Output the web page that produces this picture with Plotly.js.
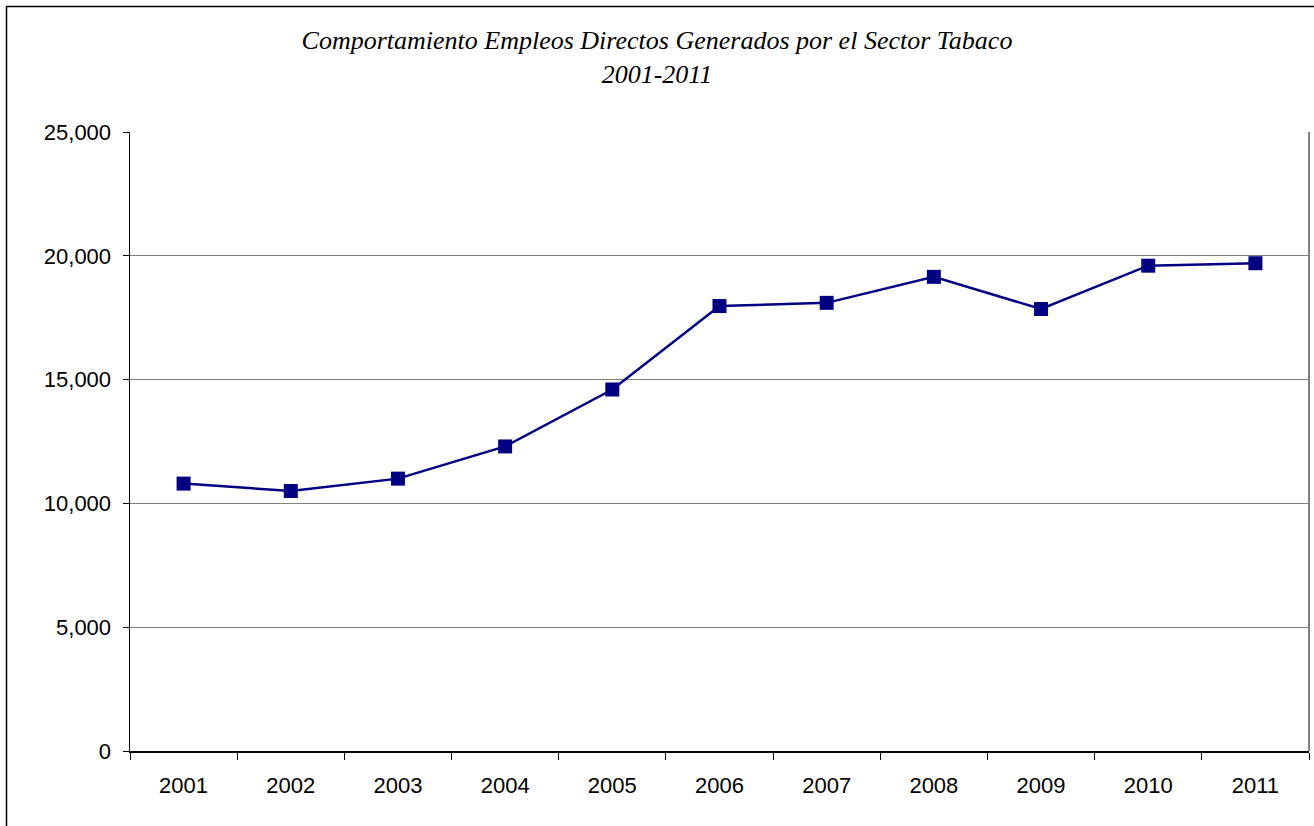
<!DOCTYPE html>
<html>
<head>
<meta charset="utf-8">
<script src="https://cdn.plot.ly/plotly-3.0.1.min.js"></script>
<style>
  html, body { margin: 0; padding: 0; background: #ffffff; }
  #chart { width: 1314px; height: 826px; }
</style>
</head>
<body>
<div id="chart"></div>
<script>
const years = ['2001','2002','2003','2004','2005','2006','2007','2008','2009','2010','2011'];
const empleos = [10800, 10500, 11000, 12300, 14600, 17970, 18100, 19150, 17850, 19600, 19700];
const titleLines = ['Comportamiento Empleos Directos Generados por el Sector Tabaco', '2001-2011'];
const yTicks = [0, 5000, 10000, 15000, 20000, 25000];

const W = 1314, H = 826;
const margin = {l: 130, r: 5, t: 132, b: 75};
const pw = W - margin.l - margin.r;
const ph = H - margin.t - margin.b;
const px = x => (x - margin.l) / pw;
const py = y => (H - margin.b - y) / ph;

const trace = {
  x: years,
  y: empleos,
  type: 'scatter',
  mode: 'lines+markers',
  line: {color: '#000080', width: 2.5},
  marker: {symbol: 'square', size: 14, color: '#000080'},
  hoverinfo: 'x+y'
};

const layout = {
  width: W, height: H,
  margin: margin,
  paper_bgcolor: '#ffffff',
  plot_bgcolor: '#ffffff',
  showlegend: false,
  font: {family: '"Liberation Sans", Arial, sans-serif', color: '#000000', size: 22},
  title: {
    text: titleLines.join('<br>'),
    font: {family: '"Liberation Serif", "Times New Roman", serif', size: 26, color: '#000000', style: 'italic'},
    x: 0.5, xref: 'container', xanchor: 'center',
    y: 1 - 49 / H, yref: 'container', yanchor: 'top'
  },
  xaxis: {
    type: 'category',
    range: [-0.5, years.length - 0.5],
    tickson: 'boundaries',
    ticks: 'outside', ticklen: 7, tickcolor: '#000000', tickwidth: 1,
    showline: true, linecolor: '#000000', linewidth: 1.5,
    showgrid: false, zeroline: false,
    ticklabelstandoff: 14,
    tickfont: {size: 22}
  },
  yaxis: {
    range: [0, 25000],
    tickvals: yTicks,
    tickformat: ',',
    ticks: 'outside', ticklen: 6, tickcolor: '#000000', tickwidth: 1,
    showline: true, linecolor: '#000000', linewidth: 1.5,
    showgrid: true, gridcolor: '#808080', gridwidth: 1,
    zeroline: false,
    ticklabelstandoff: 7,
    tickfont: {size: 22}
  },
  shapes: [
    {type: 'line', xref: 'paper', yref: 'paper', x0: 1, x1: 1, y0: 0, y1: 1,
     line: {color: '#808080', width: 2}},
    {type: 'rect', xref: 'paper', yref: 'paper', x0: px(6.5), x1: px(W + 20), y0: py(H + 20), y1: py(6.5),
     line: {color: '#000000', width: 1.5}, fillcolor: 'rgba(0,0,0,0)', layer: 'below'}
  ]
};

Plotly.newPlot('chart', [trace], layout, {displayModeBar: false, staticPlot: true});
</script>
</body>
</html>
